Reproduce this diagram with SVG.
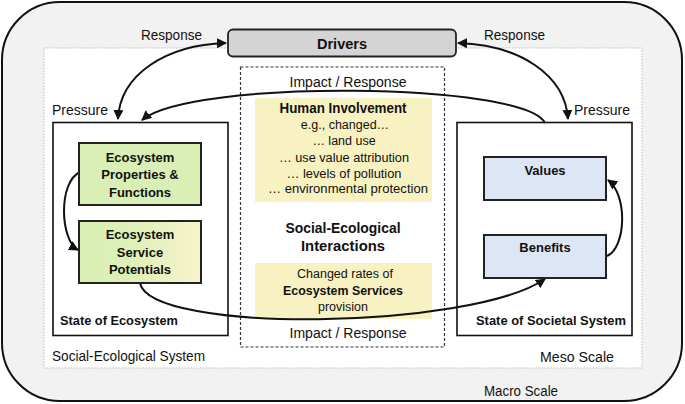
<svg xmlns="http://www.w3.org/2000/svg" width="685" height="404" viewBox="0 0 685 404">
<defs>
<marker id="ah" viewBox="0 0 10 10" refX="9" refY="5" markerWidth="5" markerHeight="5" orient="auto-start-reverse" markerUnits="strokeWidth">
<path d="M0,0 L10,5 L0,10 z" fill="#111"/>
</marker>
<linearGradient id="gy" x1="0" y1="0" x2="1" y2="0">
<stop offset="0" stop-color="#d8efb4"/>
<stop offset="0.45" stop-color="#dff0b8"/>
<stop offset="1" stop-color="#f8f3cc"/>
</linearGradient>
<style>
text{font-family:"Liberation Sans",Arial,sans-serif;fill:#111;}
.lbl{font-size:14px;}
.b{font-weight:bold;}
.c{text-anchor:middle;}
.state{fill:#fff;stroke:#111;stroke-width:1.6;}
.green{stroke:#222;stroke-width:2;}
.blue{fill:#dde6f5;stroke:#222;stroke-width:2;}
.yel{fill:#f8f1c2;}
.con{fill:none;stroke:#111;stroke-width:2;}
.small{font-size:12.5px;}
.nb{font-size:13px;font-weight:bold;}
</style>
</defs>

<g id="macro">
<rect x="2" y="2" width="680" height="399" rx="58" ry="58" fill="#f2f2f2" stroke="#111" stroke-width="2"/>
<text class="lbl" x="484" y="396" textLength="74" lengthAdjust="spacingAndGlyphs">Macro Scale</text>
</g>

<g id="meso">
<rect x="44" y="48" width="598" height="320" fill="#fff" stroke="#bbb" stroke-width="1" stroke-dasharray="1.5,1.5"/>
<text class="lbl" x="52" y="361" textLength="153" lengthAdjust="spacingAndGlyphs">Social-Ecological System</text>
<text class="lbl" x="540" y="362" textLength="74" lengthAdjust="spacingAndGlyphs">Meso Scale</text>
</g>

<g id="drivers">
<rect x="228" y="29.5" width="228" height="27" rx="5" fill="#d4d4d4" stroke="#222" stroke-width="1.8"/>
<text class="c b" x="342" y="49" font-size="14.5">Drivers</text>
</g>

<g id="state-ecosystem">
<rect class="state" x="53" y="122.5" width="175" height="213"/>
<text class="nb" x="60" y="325" textLength="118" lengthAdjust="spacingAndGlyphs">State of Ecosystem</text>
<text class="lbl" x="52" y="115">Pressure</text>
</g>

<g id="state-societal">
<rect class="state" x="457" y="122.5" width="175" height="213"/>
<text class="nb" x="476" y="325" textLength="150" lengthAdjust="spacingAndGlyphs">State of Societal System</text>
<text class="lbl" x="574" y="115">Pressure</text>
</g>

<g id="interactions">
<rect x="240.5" y="67" width="204" height="280" fill="none" stroke="#333" stroke-width="1.2" stroke-dasharray="3,2"/>
<text class="lbl c" x="348" y="87" textLength="117" lengthAdjust="spacingAndGlyphs">Impact / Response</text>
<text class="lbl c" x="348" y="338" textLength="117" lengthAdjust="spacingAndGlyphs">Impact / Response</text>
<text class="c b" x="343" y="233" font-size="15" textLength="115" lengthAdjust="spacingAndGlyphs">Social-Ecological</text>
<text class="c b" x="343" y="251" font-size="15" textLength="84" lengthAdjust="spacingAndGlyphs">Interactions</text>
</g>

<g id="human-involvement">
<rect class="yel" x="255" y="98" width="177" height="104"/>
<text class="c b" x="343" y="113" font-size="14" textLength="127" lengthAdjust="spacingAndGlyphs">Human Involvement</text>
<text class="c small" x="345" y="129">e.g., changed…</text>
<text class="c small" x="344" y="145">… land use</text>
<text class="c small" x="344" y="162" textLength="130" lengthAdjust="spacingAndGlyphs">… use value attribution</text>
<text class="c small" x="344" y="178" textLength="115" lengthAdjust="spacingAndGlyphs">… levels of pollution</text>
<text class="c small" x="348" y="193" textLength="160" lengthAdjust="spacingAndGlyphs">… environmental protection</text>
</g>

<g id="es-provision">
<rect class="yel" x="255" y="263" width="177" height="56"/>
<text class="c small" x="345" y="278" textLength="96" lengthAdjust="spacingAndGlyphs">Changed rates of</text>
<text class="c b" x="343" y="295" font-size="13" textLength="120" lengthAdjust="spacingAndGlyphs">Ecosystem Services</text>
<text class="c small" x="343" y="311">provision</text>
</g>

<g id="connectors">
<path class="con" d="M226,43 C165,45 120,75 118,119" marker-start="url(#ah)" marker-end="url(#ah)"/>
<path class="con" d="M458,43 C520,45 565,75 568,119" marker-start="url(#ah)" marker-end="url(#ah)"/>
<path class="con" d="M545,123 C525,82 190,79 142,120" marker-end="url(#ah)"/>
<path class="con" d="M140,283 C150,334 470,330 545,279" marker-end="url(#ah)"/>
<path class="con" d="M80,172 C58,182 60,240 78,250" marker-end="url(#ah)"/>
<path class="con" d="M607,256 C626,248 628,195 608,180" marker-end="url(#ah)"/>
</g>

<g id="ecosystem-properties">
<rect class="green" x="79" y="143" width="122" height="62" fill="#d9efb5"/>
<text class="c nb" x="140" y="162">Ecosystem</text>
<text class="c nb" x="140" y="179">Properties &amp;</text>
<text class="c nb" x="140" y="197">Functions</text>
</g>

<g id="es-potentials">
<rect class="green" x="79" y="221" width="122" height="62" fill="url(#gy)"/>
<text class="c nb" x="140" y="239">Ecosystem</text>
<text class="c nb" x="140" y="257">Service</text>
<text class="c nb" x="140" y="274">Potentials</text>
</g>

<g id="values">
<rect class="blue" x="484" y="157" width="122" height="43"/>
<text class="c nb" x="545" y="175">Values</text>
</g>

<g id="benefits">
<rect class="blue" x="484" y="235" width="122" height="43"/>
<text class="c nb" x="545" y="252">Benefits</text>
</g>

<g id="response-labels">
<text class="lbl" x="141" y="40" textLength="61" lengthAdjust="spacingAndGlyphs">Response</text>
<text class="lbl" x="484" y="40" textLength="61" lengthAdjust="spacingAndGlyphs">Response</text>
</g>
</svg>
